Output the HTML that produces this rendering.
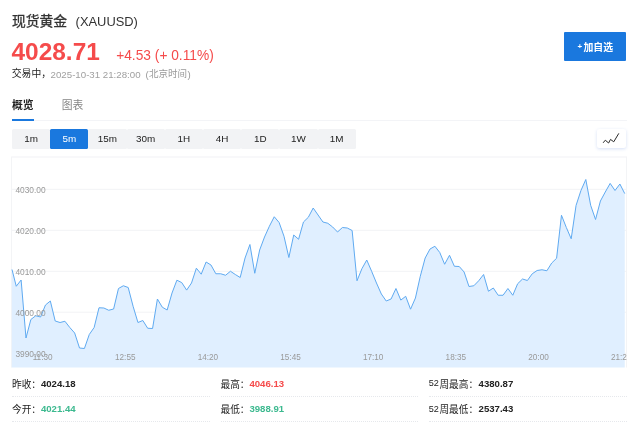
<!DOCTYPE html>
<html lang="zh-CN"><head><meta charset="utf-8"><title>现货黄金 (XAUUSD)</title>
<style>
html,body{margin:0;padding:0;background:#fff}
body{width:640px;height:429px;position:relative;overflow:hidden;font-family:"Liberation Sans",sans-serif}
.t{position:absolute;white-space:nowrap;display:block}
svg{position:absolute;left:0;top:0}
svg text{font-family:"Liberation Sans","Noto Sans CJK SC",sans-serif}
</style></head><body>
<svg width="640" height="429" viewBox="0 0 640 429">
<rect x="12" y="156.5" width="614.5" height="1" fill="#f1f2f5"/>
<rect x="12" y="188.8" width="614.5" height="1" fill="#f2f3f5"/>
<rect x="12" y="229.8" width="614.5" height="1" fill="#f2f3f5"/>
<rect x="12" y="270.8" width="614.5" height="1" fill="#f2f3f5"/>
<rect x="12" y="311.7" width="614.5" height="1" fill="#f2f3f5"/>
<rect x="12" y="352.7" width="614.5" height="1" fill="#f2f3f5"/>
<rect x="626" y="156.5" width="1" height="211" fill="#f3f4f6"/>
<rect x="11" y="156.5" width="1" height="211" fill="#f3f4f6"/>
<path d="M11.8 269L12 269.5L16.25 286.25L21.12 280L25.99 338L30.85 319.5L35.72 315.75L40.59 317L45.46 305L50.33 301L55.19 321L60.06 322.5L64.93 321.25L69.8 327.5L74.67 333L79.53 348L84.4 348.5L89.27 334.5L94.14 327.5L99.01 307.75L103.87 308L108.74 310.25L113.61 309L118.48 288.5L123.35 285.75L128.21 287.5L133.08 306.25L137.95 322.5L142.82 320.5L147.69 328.25L152.55 328.5L157.42 299L162.29 307.2L167.16 310L172.03 293L176.89 280.2L181.76 282.6L186.63 290.1L191.5 283L196.37 268.2L201.23 274.2L206.1 262L210.97 265L215.84 273.75L220.71 273.75L225.57 275.25L230.44 271.25L235.31 274.5L240.18 277.5L245.05 258L249.91 244.5L254.78 273.25L259.65 250L264.52 237L269.39 226.25L274.25 216.75L279.12 222.5L283.99 236.25L288.86 257.5L293.73 235L298.59 239.25L303.46 222L308.33 217.25L313.2 208L318.07 215L322.93 222L327.8 223.25L332.67 227L337.54 232L342.41 227.5L347.27 228L352.14 230.5L357.01 280.75L361.88 268.75L366.75 260L371.61 271.25L376.48 283L381.35 294L386.22 301L391.09 299L395.95 288.5L400.82 300.1L405.69 296.3L410.56 309.2L415.43 298L420.29 276.25L425.16 258L430.03 249L434.9 246.25L439.77 252.5L444.63 264.25L449.5 255.25L454.37 266.25L459.24 266.5L464.11 272L468.97 286.5L473.84 285.75L478.71 280.75L483.58 274.5L488.45 291.25L493.31 288L498.18 295.25L503.05 295.25L507.92 288.5L512.79 295.25L517.65 283.75L522.52 279L527.39 280.5L532.26 273.75L537.13 270.5L541.99 269.75L546.86 270.75L551.73 263L556.6 258.25L561.47 215.25L566.33 227.5L571.2 238.75L576.07 205.4L580.94 190.5L585.81 179.5L590.67 205.3L595.54 219.5L600.41 201L605.28 192L610.15 183.4L615.01 190.5L619.88 184L624.75 193.6L624.75 367.6L11.8 367.6Z" fill="#e0efff"/>
<path d="M12 269.5L16.25 286.25L21.12 280L25.99 338L30.85 319.5L35.72 315.75L40.59 317L45.46 305L50.33 301L55.19 321L60.06 322.5L64.93 321.25L69.8 327.5L74.67 333L79.53 348L84.4 348.5L89.27 334.5L94.14 327.5L99.01 307.75L103.87 308L108.74 310.25L113.61 309L118.48 288.5L123.35 285.75L128.21 287.5L133.08 306.25L137.95 322.5L142.82 320.5L147.69 328.25L152.55 328.5L157.42 299L162.29 307.2L167.16 310L172.03 293L176.89 280.2L181.76 282.6L186.63 290.1L191.5 283L196.37 268.2L201.23 274.2L206.1 262L210.97 265L215.84 273.75L220.71 273.75L225.57 275.25L230.44 271.25L235.31 274.5L240.18 277.5L245.05 258L249.91 244.5L254.78 273.25L259.65 250L264.52 237L269.39 226.25L274.25 216.75L279.12 222.5L283.99 236.25L288.86 257.5L293.73 235L298.59 239.25L303.46 222L308.33 217.25L313.2 208L318.07 215L322.93 222L327.8 223.25L332.67 227L337.54 232L342.41 227.5L347.27 228L352.14 230.5L357.01 280.75L361.88 268.75L366.75 260L371.61 271.25L376.48 283L381.35 294L386.22 301L391.09 299L395.95 288.5L400.82 300.1L405.69 296.3L410.56 309.2L415.43 298L420.29 276.25L425.16 258L430.03 249L434.9 246.25L439.77 252.5L444.63 264.25L449.5 255.25L454.37 266.25L459.24 266.5L464.11 272L468.97 286.5L473.84 285.75L478.71 280.75L483.58 274.5L488.45 291.25L493.31 288L498.18 295.25L503.05 295.25L507.92 288.5L512.79 295.25L517.65 283.75L522.52 279L527.39 280.5L532.26 273.75L537.13 270.5L541.99 269.75L546.86 270.75L551.73 263L556.6 258.25L561.47 215.25L566.33 227.5L571.2 238.75L576.07 205.4L580.94 190.5L585.81 179.5L590.67 205.3L595.54 219.5L600.41 201L605.28 192L610.15 183.4L615.01 190.5L619.88 184L624.75 193.6" fill="none" stroke="#5faaf1" stroke-width="1" stroke-linejoin="round"/>
</svg>
<div id="ui" style="position:absolute;left:0;top:0;width:640px;height:429px;will-change:transform">
<span class="t" style="left:75.6px;top:15.68px;font-size:12.9px;line-height:12.9px;color:#333;">(XAUUSD)</span>
<span class="t" style="left:11.5px;top:39.9px;font-size:24.45px;line-height:24.45px;color:#f54b4b;font-weight:700;">4028.71</span>
<span class="t" style="left:116.2px;top:48.96px;font-size:13.75px;line-height:13.75px;color:#f54b4b;">+4.53 (+ 0.11%)</span>
<span class="t" style="left:50.6px;top:69.89px;font-size:9.7px;line-height:9.7px;color:#a0a0a0;">2025-10-31 21:28:00</span>
<span class="t" style="left:145.4px;top:69.89px;font-size:9.7px;line-height:9.7px;color:#999;">(</span>
<span class="t" style="left:187.6px;top:69.89px;font-size:9.7px;line-height:9.7px;color:#999;">)</span>
<div style="position:absolute;left:563.6px;top:31.6px;width:62.6px;height:29.5px;background:#1a78de;border-radius:1px"></div>
<div style="position:absolute;left:12px;top:120px;width:614.5px;height:1px;background:#f3f4f7"></div>
<div style="position:absolute;left:12px;top:118.8px;width:21.8px;height:2.2px;background:#1a78de"></div>
<div style="position:absolute;left:12px;top:129.4px;width:38.2px;height:19.4px;background:#f2f3f5;border-radius:1.5px"></div>
<span class="t" style="left:1.05px;top:134.37px;font-size:9.9px;line-height:9.9px;color:#222;width:60px;text-align:center;">1m</span>
<div style="position:absolute;left:50.2px;top:129.4px;width:38.2px;height:19.4px;background:#1a78de;border-radius:1.5px"></div>
<span class="t" style="left:39.25px;top:134.37px;font-size:9.9px;line-height:9.9px;color:#fff;width:60px;text-align:center;">5m</span>
<div style="position:absolute;left:88.4px;top:129.4px;width:38.2px;height:19.4px;background:#f2f3f5;border-radius:1.5px"></div>
<span class="t" style="left:77.45px;top:134.37px;font-size:9.9px;line-height:9.9px;color:#222;width:60px;text-align:center;">15m</span>
<div style="position:absolute;left:126.6px;top:129.4px;width:38.2px;height:19.4px;background:#f2f3f5;border-radius:1.5px"></div>
<span class="t" style="left:115.65px;top:134.37px;font-size:9.9px;line-height:9.9px;color:#222;width:60px;text-align:center;">30m</span>
<div style="position:absolute;left:164.8px;top:129.4px;width:38.2px;height:19.4px;background:#f2f3f5;border-radius:1.5px"></div>
<span class="t" style="left:153.85px;top:134.37px;font-size:9.9px;line-height:9.9px;color:#222;width:60px;text-align:center;">1H</span>
<div style="position:absolute;left:203px;top:129.4px;width:38.2px;height:19.4px;background:#f2f3f5;border-radius:1.5px"></div>
<span class="t" style="left:192.05px;top:134.37px;font-size:9.9px;line-height:9.9px;color:#222;width:60px;text-align:center;">4H</span>
<div style="position:absolute;left:241.2px;top:129.4px;width:38.2px;height:19.4px;background:#f2f3f5;border-radius:1.5px"></div>
<span class="t" style="left:230.25px;top:134.37px;font-size:9.9px;line-height:9.9px;color:#222;width:60px;text-align:center;">1D</span>
<div style="position:absolute;left:279.4px;top:129.4px;width:38.2px;height:19.4px;background:#f2f3f5;border-radius:1.5px"></div>
<span class="t" style="left:268.45px;top:134.37px;font-size:9.9px;line-height:9.9px;color:#222;width:60px;text-align:center;">1W</span>
<div style="position:absolute;left:317.6px;top:129.4px;width:38.2px;height:19.4px;background:#f2f3f5;border-radius:1.5px"></div>
<span class="t" style="left:306.65px;top:134.37px;font-size:9.9px;line-height:9.9px;color:#222;width:60px;text-align:center;">1M</span>
<div style="position:absolute;left:597px;top:129px;width:29px;height:18.6px;background:#fff;border-radius:2px;box-shadow:0 1px 3.5px rgba(50,100,210,.2)"></div>
<span class="t" style="left:15.4px;top:185.69px;font-size:8.4px;line-height:8.4px;color:#999;">4030.00</span>
<span class="t" style="left:15.4px;top:226.69px;font-size:8.4px;line-height:8.4px;color:#999;">4020.00</span>
<span class="t" style="left:15.4px;top:267.69px;font-size:8.4px;line-height:8.4px;color:#999;">4010.00</span>
<span class="t" style="left:15.4px;top:308.59px;font-size:8.4px;line-height:8.4px;color:#999;">4000.00</span>
<span class="t" style="left:15.4px;top:349.59px;font-size:8.4px;line-height:8.4px;color:#999;">3990.00</span>
<span class="t" style="left:12.6px;top:354.06px;font-size:8.2px;line-height:8.2px;color:#999;width:60px;text-align:center;">11:30</span>
<span class="t" style="left:95.25px;top:354.06px;font-size:8.2px;line-height:8.2px;color:#999;width:60px;text-align:center;">12:55</span>
<span class="t" style="left:177.9px;top:354.06px;font-size:8.2px;line-height:8.2px;color:#999;width:60px;text-align:center;">14:20</span>
<span class="t" style="left:260.55px;top:354.06px;font-size:8.2px;line-height:8.2px;color:#999;width:60px;text-align:center;">15:45</span>
<span class="t" style="left:343.2px;top:354.06px;font-size:8.2px;line-height:8.2px;color:#999;width:60px;text-align:center;">17:10</span>
<span class="t" style="left:425.85px;top:354.06px;font-size:8.2px;line-height:8.2px;color:#999;width:60px;text-align:center;">18:35</span>
<span class="t" style="left:508.5px;top:354.06px;font-size:8.2px;line-height:8.2px;color:#999;width:60px;text-align:center;">20:00</span>
<span class="t" style="left:591.15px;top:354.06px;font-size:8.2px;line-height:8.2px;color:#999;width:60px;text-align:center;">21:25</span>
<div style="position:absolute;left:626.6px;top:340px;width:13.4px;height:30px;background:#fff"></div>
<span class="t" style="left:40.9px;top:379.02px;font-size:9.6px;line-height:9.6px;color:#222;font-weight:700;">4024.18</span>
<span class="t" style="left:249.4px;top:379.02px;font-size:9.6px;line-height:9.6px;color:#f54b4b;font-weight:700;">4046.13</span>
<span class="t" style="left:428.8px;top:379.45px;font-size:9.1px;line-height:9.1px;color:#222;">52</span>
<span class="t" style="left:478.6px;top:379.02px;font-size:9.6px;line-height:9.6px;color:#222;font-weight:700;">4380.87</span>
<span class="t" style="left:40.9px;top:404.32px;font-size:9.6px;line-height:9.6px;color:#3cb98f;font-weight:700;">4021.44</span>
<span class="t" style="left:249.4px;top:404.32px;font-size:9.6px;line-height:9.6px;color:#3cb98f;font-weight:700;">3988.91</span>
<span class="t" style="left:428.8px;top:404.75px;font-size:9.1px;line-height:9.1px;color:#222;">52</span>
<span class="t" style="left:478.6px;top:404.32px;font-size:9.6px;line-height:9.6px;color:#222;font-weight:700;">2537.43</span>
<div style="position:absolute;left:12px;top:395.7px;width:197.5px;height:0;border-top:1px dotted #e6e8ec"></div>
<div style="position:absolute;left:220.5px;top:395.7px;width:197.5px;height:0;border-top:1px dotted #e6e8ec"></div>
<div style="position:absolute;left:429.2px;top:395.7px;width:197.5px;height:0;border-top:1px dotted #e6e8ec"></div>
<div style="position:absolute;left:12px;top:420.8px;width:197.5px;height:0;border-top:1px dotted #e6e8ec"></div>
<div style="position:absolute;left:220.5px;top:420.8px;width:197.5px;height:0;border-top:1px dotted #e6e8ec"></div>
<div style="position:absolute;left:429.2px;top:420.8px;width:197.5px;height:0;border-top:1px dotted #e6e8ec"></div>
</div>
<svg width="640" height="429" viewBox="0 0 640 429" style="pointer-events:none">
<text x="11.9" y="25.7" font-size="13.8" fill="#333" stroke="#333" stroke-width="0.3">现货黄金</text>
<text x="11.8" y="77.4" font-size="9.8" fill="#222">交易中，</text>
<text x="148.9" y="77.4" font-size="9.5" fill="#999">北京时间</text>
<text x="577.4" y="48.6" font-size="8" font-weight="700" fill="#fff">+</text>
<text x="583.4" y="50.6" font-size="9.9" font-weight="700" fill="#fff">加自选</text>
<text x="11.9" y="109.4" font-size="10.8" font-weight="700" fill="#222">概览</text>
<text x="61.8" y="109.4" font-size="10.8" fill="#858585">图表</text>
<path d="M603.4 142.5L605.3 140.2L608.6 143L610.5 139.4L613.75 141.8L618.6 133.7" fill="none" stroke="#2a2a2a" stroke-width="1" stroke-linecap="round" stroke-linejoin="round"/>
<text x="12" y="387.5" font-size="9.7" fill="#222">昨收：</text>
<text x="220.5" y="387.5" font-size="9.7" fill="#222">最高：</text>
<text x="439.4" y="387.5" font-size="9.7" fill="#222">周最高：</text>
<text x="12" y="412.8" font-size="9.7" fill="#222">今开：</text>
<text x="220.5" y="412.8" font-size="9.7" fill="#222">最低：</text>
<text x="439.4" y="412.8" font-size="9.7" fill="#222">周最低：</text>
</svg>
</body></html>
